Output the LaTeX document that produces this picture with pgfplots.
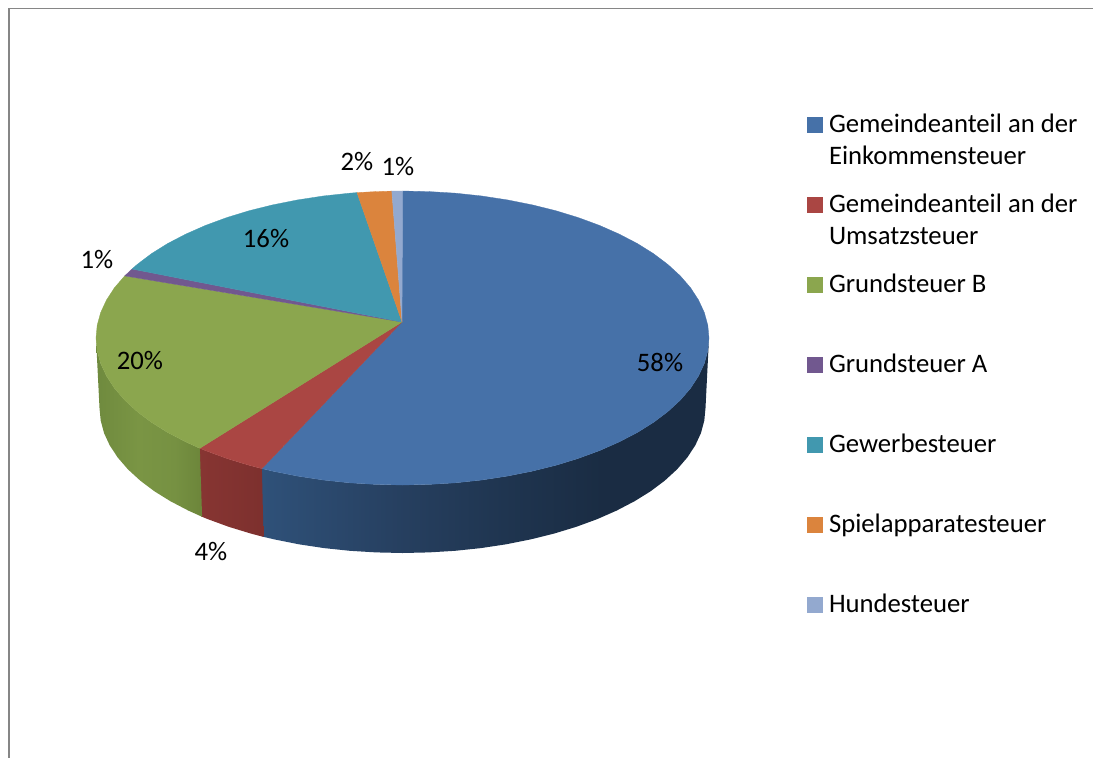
\documentclass[border=0pt]{standalone}
\usepackage{pgfplots}
\pgfplotsset{compat=1.18}
\usepackage{fontspec}
\setmainfont{Carlito}
\definecolor{cBlue}{HTML}{4671A8}
\definecolor{cRed}{HTML}{AA4643}
\definecolor{cGreen}{HTML}{8BA64E}
\definecolor{cPurple}{HTML}{71588F}
\definecolor{cTeal}{HTML}{4198AF}
\definecolor{cOrange}{HTML}{DB843D}
\definecolor{cLight}{HTML}{93A9CF}
\definecolor{cBorder}{HTML}{868686}
\pgfdeclarehorizontalshading{sideBlue}{100bp}{rgb(0bp)=(0.184,0.318,0.475); rgb(25bp)=(0.184,0.318,0.475); rgb(41bp)=(0.149,0.247,0.373); rgb(52bp)=(0.122,0.208,0.314); rgb(63bp)=(0.102,0.173,0.263); rgb(75bp)=(0.102,0.173,0.263); rgb(100bp)=(0.102,0.173,0.263)}
\pgfdeclarehorizontalshading{sideGreen}{100bp}{rgb(0bp)=(0.435,0.541,0.243); rgb(25bp)=(0.435,0.541,0.243); rgb(45bp)=(0.478,0.584,0.267); rgb(62bp)=(0.463,0.569,0.259); rgb(75bp)=(0.424,0.522,0.227); rgb(100bp)=(0.424,0.522,0.227)}
\pgfdeclarehorizontalshading{sideRed}{100bp}{rgb(0bp)=(0.529,0.208,0.196); rgb(25bp)=(0.529,0.208,0.196); rgb(75bp)=(0.490,0.188,0.180); rgb(100bp)=(0.490,0.188,0.180)}
\begin{document}
\begin{tikzpicture}[lbl/.style={font=\fontsize{26.7}{32}\selectfont, text=black, inner sep=0pt, outer sep=0pt}]
\path[use as bounding box] (0,0) rectangle (1093pt,758pt);
\begin{axis}[
  at={(0,0)}, anchor=south west,
  scale only axis, width=1093pt, height=758pt,
  xmin=0, xmax=1093, ymin=0, ymax=758, y dir=reverse,
  axis lines=none, clip=true,
]
% frame
\addplot[draw=cBorder, line width=1.5pt] coordinates {(1093,8.5) (8.8,8.5) (8.8,758)};
% side walls
\addplot[draw=none, shade, shading=sideBlue] coordinates {
(709.0,338)(707.8,350.8)(704.3,363.5)(698.5,376.0)(690.5,388.3)(680.3,400.1)(667.9,411.5)(653.6,422.3)(637.3,432.5)(619.2,441.9)(599.5,450.6)(578.3,458.4)(555.8,465.3)(532.0,471.2)(507.3,476.1)(481.8,480.0)(455.7,482.8)(429.2,484.4)(402.5,485)(375.8,484.4)(349.3,482.8)(323.2,480.0)(297.7,476.1)(273.0,471.2)(260.9,468.4)
(262.5,536.6)(274.4,539.4)(298.9,544.3)(324.1,548.1)(349.9,550.8)(376.1,552.4)(402.5,553)(428.9,552.4)(455.1,550.8)(480.9,548.1)(506.1,544.3)(530.6,539.4)(554.0,533.6)(576.3,526.8)(597.3,519.1)(616.8,510.5)(634.6,501.2)(650.7,491.2)(664.9,480.5)(677.1,469.3)(687.2,457.6)(695.2,445.5)(700.9,433.2)(704.3,420.6)(705.5,408)
} -- cycle;
\addplot[draw=none, shade, shading=sideRed] coordinates {
(261.9,468.6)(249.2,465.3)(226.7,458.4)(205.5,450.6)(198.8,447.8)
(201.1,516.4)(207.7,519.1)(228.7,526.8)(251.0,533.6)(263.5,536.9)
} -- cycle;
\addplot[draw=none, shade, shading=sideGreen] coordinates {
(199.8,448.3)(185.8,441.9)(167.7,432.5)(151.4,422.3)(137.1,411.5)(124.7,400.1)(114.5,388.3)(106.5,376.0)(100.7,363.5)(97.2,350.8)(96,338)
(99.5,408)(100.7,420.6)(104.1,433.2)(109.8,445.5)(117.8,457.6)(127.9,469.3)(140.1,480.5)(154.3,491.2)(170.4,501.2)(188.2,510.5)(202.1,516.8)
} -- cycle;
% top faces
\addplot[draw=cBlue, line width=0.3pt, fill=cBlue] coordinates {
(402,322)(402.5,191)(429.2,191.6)(455.7,193.2)(481.8,196.0)(507.3,199.9)(532.0,204.8)(555.8,210.7)(578.3,217.6)(599.5,225.4)(619.2,234.1)(637.3,243.5)(653.6,253.7)(667.9,264.5)(680.3,275.9)(690.5,287.7)(698.5,300.0)(704.3,312.5)(707.8,325.2)(709.0,338)(707.8,350.8)(704.3,363.5)(698.5,376.0)(690.5,388.3)(680.3,400.1)(667.9,411.5)(653.6,422.3)(637.3,432.5)(619.2,441.9)(599.5,450.6)(578.3,458.4)(555.8,465.3)(532.0,471.2)(507.3,476.1)(481.8,480.0)(455.7,482.8)(429.2,484.4)(402.5,485)(375.8,484.4)(349.3,482.8)(323.2,480.0)(297.7,476.1)(273.0,471.2)(261.9,468.6)
} -- cycle;
\addplot[draw=cRed, line width=0.3pt, fill=cRed] coordinates {
(402,322)(261.9,468.6)(249.2,465.3)(226.7,458.4)(205.5,450.6)(199.8,448.3)
} -- cycle;
\addplot[draw=cGreen, line width=0.3pt, fill=cGreen] coordinates {
(402,322)(199.8,448.3)(185.8,441.9)(167.7,432.5)(151.4,422.3)(137.1,411.5)(124.7,400.1)(114.5,388.3)(106.5,376.0)(100.7,363.5)(97.2,350.8)(96,338)(97.2,325.2)(100.7,312.5)(106.5,300.0)(114.5,287.7)(124.7,275.9)
} -- cycle;
\addplot[draw=cPurple, line width=0.3pt, fill=cPurple] coordinates {
(402,322)(124.7,275.9)(132,269)
} -- cycle;
\addplot[draw=cTeal, line width=0.3pt, fill=cTeal] coordinates {
(402,322)(132,269)(137.1,264.5)(151.4,253.7)(167.7,243.5)(185.8,234.1)(205.5,225.4)(226.7,217.6)(249.2,210.7)(273.0,204.8)(297.7,199.9)(323.2,196.0)(349.3,193.2)(357,192.6)
} -- cycle;
\addplot[draw=cOrange, line width=0.3pt, fill=cOrange] coordinates {
(402,322)(357,192.6)(375.8,191.6)(391.8,191.1)
} -- cycle;
\addplot[draw=cLight, line width=0.3pt, fill=cLight] coordinates {
(402,322)(391.8,191.1)(402.5,191)
} -- cycle;
% legend markers
\addplot[only marks, mark=square*, mark size=7.5pt, draw=none, mark options={draw=cBlue, line width=0pt, fill=cBlue}] coordinates {(814.5,124.5)};
\addplot[only marks, mark=square*, mark size=7.5pt, draw=none, mark options={draw=cRed, line width=0pt, fill=cRed}] coordinates {(814.5,204.5)};
\addplot[only marks, mark=square*, mark size=7.5pt, draw=none, mark options={draw=cGreen, line width=0pt, fill=cGreen}] coordinates {(814.5,284.5)};
\addplot[only marks, mark=square*, mark size=7.5pt, draw=none, mark options={draw=cPurple, line width=0pt, fill=cPurple}] coordinates {(814.5,364.5)};
\addplot[only marks, mark=square*, mark size=7.5pt, draw=none, mark options={draw=cTeal, line width=0pt, fill=cTeal}] coordinates {(814.5,444.5)};
\addplot[only marks, mark=square*, mark size=7.5pt, draw=none, mark options={draw=cOrange, line width=0pt, fill=cOrange}] coordinates {(814.5,524.5)};
\addplot[only marks, mark=square*, mark size=7.5pt, draw=none, mark options={draw=cLight, line width=0pt, fill=cLight}] coordinates {(814.5,604.5)};
% legend text
\node[lbl, anchor=base west] at (axis cs:829,132) {Gemeindeanteil an der};
\node[lbl, anchor=base west] at (axis cs:829,164) {Einkommensteuer};
\node[lbl, anchor=base west] at (axis cs:829,212) {Gemeindeanteil an der};
\node[lbl, anchor=base west] at (axis cs:829,244) {Umsatzsteuer};
\node[lbl, anchor=base west] at (axis cs:829,292) {Grundsteuer B};
\node[lbl, anchor=base west] at (axis cs:829,372) {Grundsteuer A};
\node[lbl, anchor=base west] at (axis cs:829,452) {Gewerbesteuer};
\node[lbl, anchor=base west] at (axis cs:829,532) {Spielapparatesteuer};
\node[lbl, anchor=base west] at (axis cs:829,612) {Hundesteuer};
% data labels
\node[lbl, anchor=base] at (axis cs:660,371) {58\%};
\node[lbl, anchor=base] at (axis cs:140,369) {20\%};
\node[lbl, anchor=base] at (axis cs:266,247) {16\%};
\node[lbl, anchor=base] at (axis cs:97,268) {1\%};
\node[lbl, anchor=base] at (axis cs:211,560) {4\%};
\node[lbl, anchor=base] at (axis cs:357,170) {2\%};
\node[lbl, anchor=base] at (axis cs:398,175) {1\%};
\end{axis}
\end{tikzpicture}
\end{document}
